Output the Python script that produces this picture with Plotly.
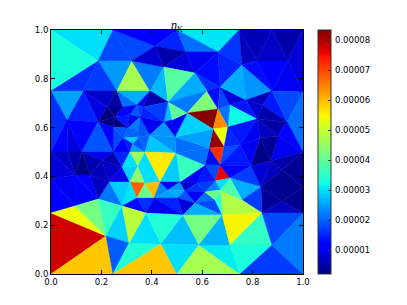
import numpy as np
import plotly.graph_objects as go

# mesh vertices in data coordinates
vx = [0,.246,.5,.746,.877,1,.187,.321,.413,.536,.663,.758,.817,.94,.448,.571,.671,0,.127,.262,
      .393,.619,.877,1,.774,.71,.841,.464,.54,.663,.222,.286,.341,.365,.48,.448,.313,.353,.254,.063,
      .187,.246,.306,.349,.286,.349,.325,.393,.492,.643,.702,.817,.937,.901,.829,.75,.687,.627,1,.873,
      .794,.671,.611,.496,.373,.313,.246,.123,.067,0,.202,.282,.345,.917,1,.833,.71,.651,.579,.512,
      .433,.373,.313,.23,.155,.095,0,.464,.532,.611,.671,.758,.917,.341,.409,.5,.571,.651,.187,.095,
      .282,0,.377,.524,.679,.837,1,.218,.31,.437,.587,.71,.877,0,.246,.5,.75,1]
vy = [1,1,1,1,1,1,.873,.873,.934,.91,.91,.857,.873,.873,.848,.824,.766,.75,.75,.75,
      .75,.75,.75,.746,.713,.693,.693,.705,.66,.676,.684,.684,.693,.684,.631,.623,.652,.643,.643,.631,
      .623,.602,.598,.59,.557,.561,.533,.57,.561,.594,.602,.635,.623,.566,.557,.529,.52,.516,.5,.463,
      .443,.447,.447,.496,.5,.5,.5,.5,.5,.5,.467,.439,.443,.426,.357,.357,.393,.381,.373,.377,
      .377,.373,.377,.377,.406,.406,.389,.344,.34,.336,.344,.303,.299,.311,.311,.311,.291,.303,.307,.279,
      .279,.25,.25,.242,.242,.25,.25,.156,.127,.123,.119,.119,.119,0,0,0,0,0]

# triangles: three vertex indices and the value of eta on that cell (units of 1e-5)
cells = [
 (0,1,6,3.0),(0,6,17,3.3),(1,8,7,1.8),(1,7,6,1.8),(1,2,8,1.2),(6,7,19,2.45),(17,6,18,1.6),(18,6,19,1.7),
 (7,20,19,4.7),(7,14,20,2.2),(8,14,7,.8),(14,27,20,2.7),(8,2,9,1.5),(8,9,14,.5),(14,9,15,.85),(14,15,27,3.9),
 (2,3,10,3.05),(2,10,9,2.1),(9,10,15,1.0),(10,16,15,1.3),(3,11,10,1.65),(10,11,16,1.5),(15,16,21,1.6),
 (15,21,27,2.6),(27,21,28,2.2),(21,29,28,4.3),(21,16,29,1.3),(16,25,29,1.8),(16,24,25,.85),(16,11,24,2.6),
 (11,22,24,2.4),(3,4,12,.6),(3,12,11,.65),(4,5,13,.5),(4,13,12,.7),(5,23,13,.85),(12,13,22,1.1),(11,12,22,1.3),
 (13,23,22,1.0),(24,22,26,.65),(22,52,26,1.4),(22,23,52,1.8),(23,58,52,2.1),(26,52,51,.5),(24,26,51,.75),
 (25,24,51,1.4),(25,51,50,3.2),(29,25,50,2.15),(28,29,49,8.3),(29,50,49,6.4),(49,50,56,5.4),(49,56,57,8.2),
 (57,56,61,7.2),(57,61,62,1.3),(62,61,77,1.8),(61,76,77,7.6),(50,51,55,1.4),(51,54,55,1.0),(51,53,54,.7),
 (51,52,53,.5),(52,58,53,1.1),(53,58,59,1.0),(54,53,59,.36),(54,59,60,.25),(55,54,60,1.0),(50,55,56,1.5),
 (56,55,61,1.8),(61,55,60,1.4),(61,60,76,1.2),(76,60,75,1.7),(76,75,91,2.6),(59,58,73,.5),(73,58,74,.36),
 (73,74,92,.3),(60,59,75,.8),(59,73,75,.64),(75,73,92,.36),(92,74,106,.3),(75,92,105,.36),(105,92,106,.64),
 (91,75,105,1.7),(90,91,105,4.8),(90,105,104,4.8),(76,91,90,3.8),(77,76,90,3.0),(89,77,90,2.3),(78,77,89,1.7),
 (62,77,78,1.4),(62,78,79,1.1),(63,62,79,3.6),(57,62,63,2.1),(48,57,63,2.1),(48,49,57,2.5),(28,49,48,2.9),
 (34,28,48,1.2),(27,28,34,4.0),(27,34,35,2.7),(35,34,48,1.0),
 (18,19,30,.7),(18,30,40,.9),(18,40,39,1.5),(17,18,39,2.5),(17,39,69,1.6),(69,39,68,1.1),(39,67,68,.85),
 (39,40,67,1.1),(19,31,30,.45),(19,20,32,2.6),(19,32,31,2.1),(20,27,33,.5),(20,33,32,1.0),(27,35,33,1.7),
 (31,32,36,1.0),(32,33,37,1.7),(32,37,36,1.9),(33,35,37,1.5),(30,31,38,.25),(30,38,40,.2),(40,38,41,.15),
 (38,42,41,.1),(31,36,38,1.1),(38,36,42,1.4),(36,37,42,1.0),(37,43,42,2.2),(37,47,43,1.9),(37,35,47,1.0),
 (35,48,47,2.4),(42,43,44,2.0),(43,45,44,2.0),(43,47,45,1.9),(44,45,46,2.85),(41,42,44,1.9),(41,44,66,1.8),
 (40,41,66,1.2),(40,66,67,1.9),(66,44,65,1.1),(44,46,65,1.4),(65,46,64,2.5),(46,45,64,1.9),(45,47,64,2.0),
 (47,63,64,2.8),(47,48,63,2.4),(67,66,70,1.0),(66,71,70,.5),(66,65,71,1.5),(67,70,84,.55),(67,84,85,.22),
 (68,67,85,.5),(69,68,85,.7),(69,85,86,.85),(70,83,84,.6),(70,71,83,.7),(71,82,83,1.0),(71,72,82,2.9),
 (65,72,71,3.0),(65,64,72,4.6),(64,80,72,3.0),(64,63,80,5.6),(63,79,80,2.85),(72,81,82,4.5),(72,80,81,3.0),
 (82,81,93,6.8),(81,94,93,4.1),(81,80,94,6.0),(80,87,94,2.3),(80,79,87,1.2),(87,79,88,2.4),(79,78,88,.7),
 (88,78,89,1.6),(88,89,96,1.1),(87,88,95,2.6),(94,87,95,2.5),(95,88,96,1.9),(95,96,103,.85),(96,89,97,2.1),
 (96,97,104,1.8),(97,90,104,3.4),(89,90,97,4.2),(103,96,104,2.6),(94,95,103,1.5),(93,94,102,1.6),
 (94,103,102,1.0),(83,82,100,2.85),(82,93,100,3.05),(100,93,102,1.3),(98,83,100,2.15),(84,83,98,.64),
 (85,84,98,1.1),(86,85,99,1.0),(85,98,99,1.1),(86,99,101,1.2),
 (101,113,107,7.8),(113,114,107,5.9),(101,107,99,5.4),(99,107,98,4.2),(98,107,100,3.6),(107,108,100,2.9),
 (107,114,108,1.95),(114,109,108,3.4),(108,109,102,3.0),(100,108,102,4.9),(114,115,109,5.9),(102,109,103,3.4),
 (109,110,103,2.75),(109,115,110,3.0),(115,116,110,4.7),(110,116,111,3.1),(103,110,104,4.2),(110,111,104,2.65),
 (104,111,105,5.5),(111,112,105,3.55),(111,116,112,3.3),(116,117,112,1.7),(112,117,106,2.2),(105,112,106,1.8),
]

cmin, cmax = 0.2e-5, 8.35e-5
cb_ticks = [1e-5, 2e-5, 3e-5, 4e-5, 5e-5, 6e-5, 7e-5, 8e-5]
cb_labels = ["0.00001", "0.00002", "0.00003", "0.00004", "0.00005", "0.00006", "0.00007", "0.00008"]
axis_ticks = [0, .2, .4, .6, .8, 1]
axis_labels = ["0.0", "0.2", "0.4", "0.6", "0.8", "1.0"]


def jet(f):
    r = np.interp(f, [0, .35, .66, .89, 1], [0, 0, 1, 1, .5])
    g = np.interp(f, [0, .125, .375, .64, .91, 1], [0, 0, 1, 1, 0, 0])
    b = np.interp(f, [0, .11, .34, .65, 1], [.5, 1, 1, 0, 0])
    return "rgb(%d,%d,%d)" % (round(r * 255), round(g * 255), round(b * 255))


fig = go.Figure()
fig.add_trace(go.Scatter(
    x=[0.5], y=[0.5], mode="markers", hoverinfo="skip", showlegend=False,
    marker=dict(
        size=1, color=[cmin], cmin=cmin, cmax=cmax, showscale=True,
        colorscale=[[i / 64, jet(i / 64)] for i in range(65)],
        colorbar=dict(
            x=1.0595, xanchor="left", y=0.5, yanchor="middle", len=1.0, lenmode="fraction",
            thickness=13, thicknessmode="pixels", xpad=0, ypad=0,
            outlinecolor="#333333", outlinewidth=1, borderwidth=0,
            tickmode="array", tickvals=cb_ticks, ticktext=cb_labels,
            ticks="inside", ticklen=3, tickcolor="#333333", tickwidth=0.6,
            showticklabels=False,
        ),
    ),
))
for a, b, c, v in cells:
    col = jet((v * 1e-5 - cmin) / (cmax - cmin))
    fig.add_trace(go.Scatter(
        x=[vx[a], vx[b], vx[c], vx[a]], y=[vy[a], vy[b], vy[c], vy[a]],
        mode="lines", fill="toself", fillcolor=col, line=dict(color=col, width=0.4),
        hoverinfo="skip", showlegend=False,
    ))

for tv, tl in zip(cb_ticks, cb_labels):
    fig.add_annotation(
        x=1.123, xref="paper", xanchor="left", y=(tv - cmin) / (cmax - cmin), yref="paper", yanchor="middle",
        text=tl, showarrow=False, xshift=0, borderpad=0,
        font=dict(family="DejaVu Sans", size=8.5, color="black"),
    )

axis = dict(
    range=[0, 1], tickmode="array", tickvals=axis_ticks, ticktext=axis_labels,
    ticks="inside", ticklen=4, tickwidth=0.6, tickcolor="black",
    showline=True, linecolor="black", linewidth=1, mirror="ticks",
    showgrid=False, zeroline=False,
    tickfont=dict(family="DejaVu Sans", size=8.5, color="black"),
)
fig.update_layout(
    width=399, height=297, autosize=False,
    margin=dict(l=43, r=104, t=22, b=31),
    paper_bgcolor="white", plot_bgcolor="white",
    xaxis=axis, yaxis=axis,
    title=dict(
        text="<i>η</i><sub>K</sub>", x=0.5, xref="paper", xanchor="center",
        y=1.0, yref="paper", yanchor="bottom", pad=dict(b=1),
        font=dict(family="Liberation Serif", size=12, color="black"),
    ),
)
fig.write_html("out.html")
